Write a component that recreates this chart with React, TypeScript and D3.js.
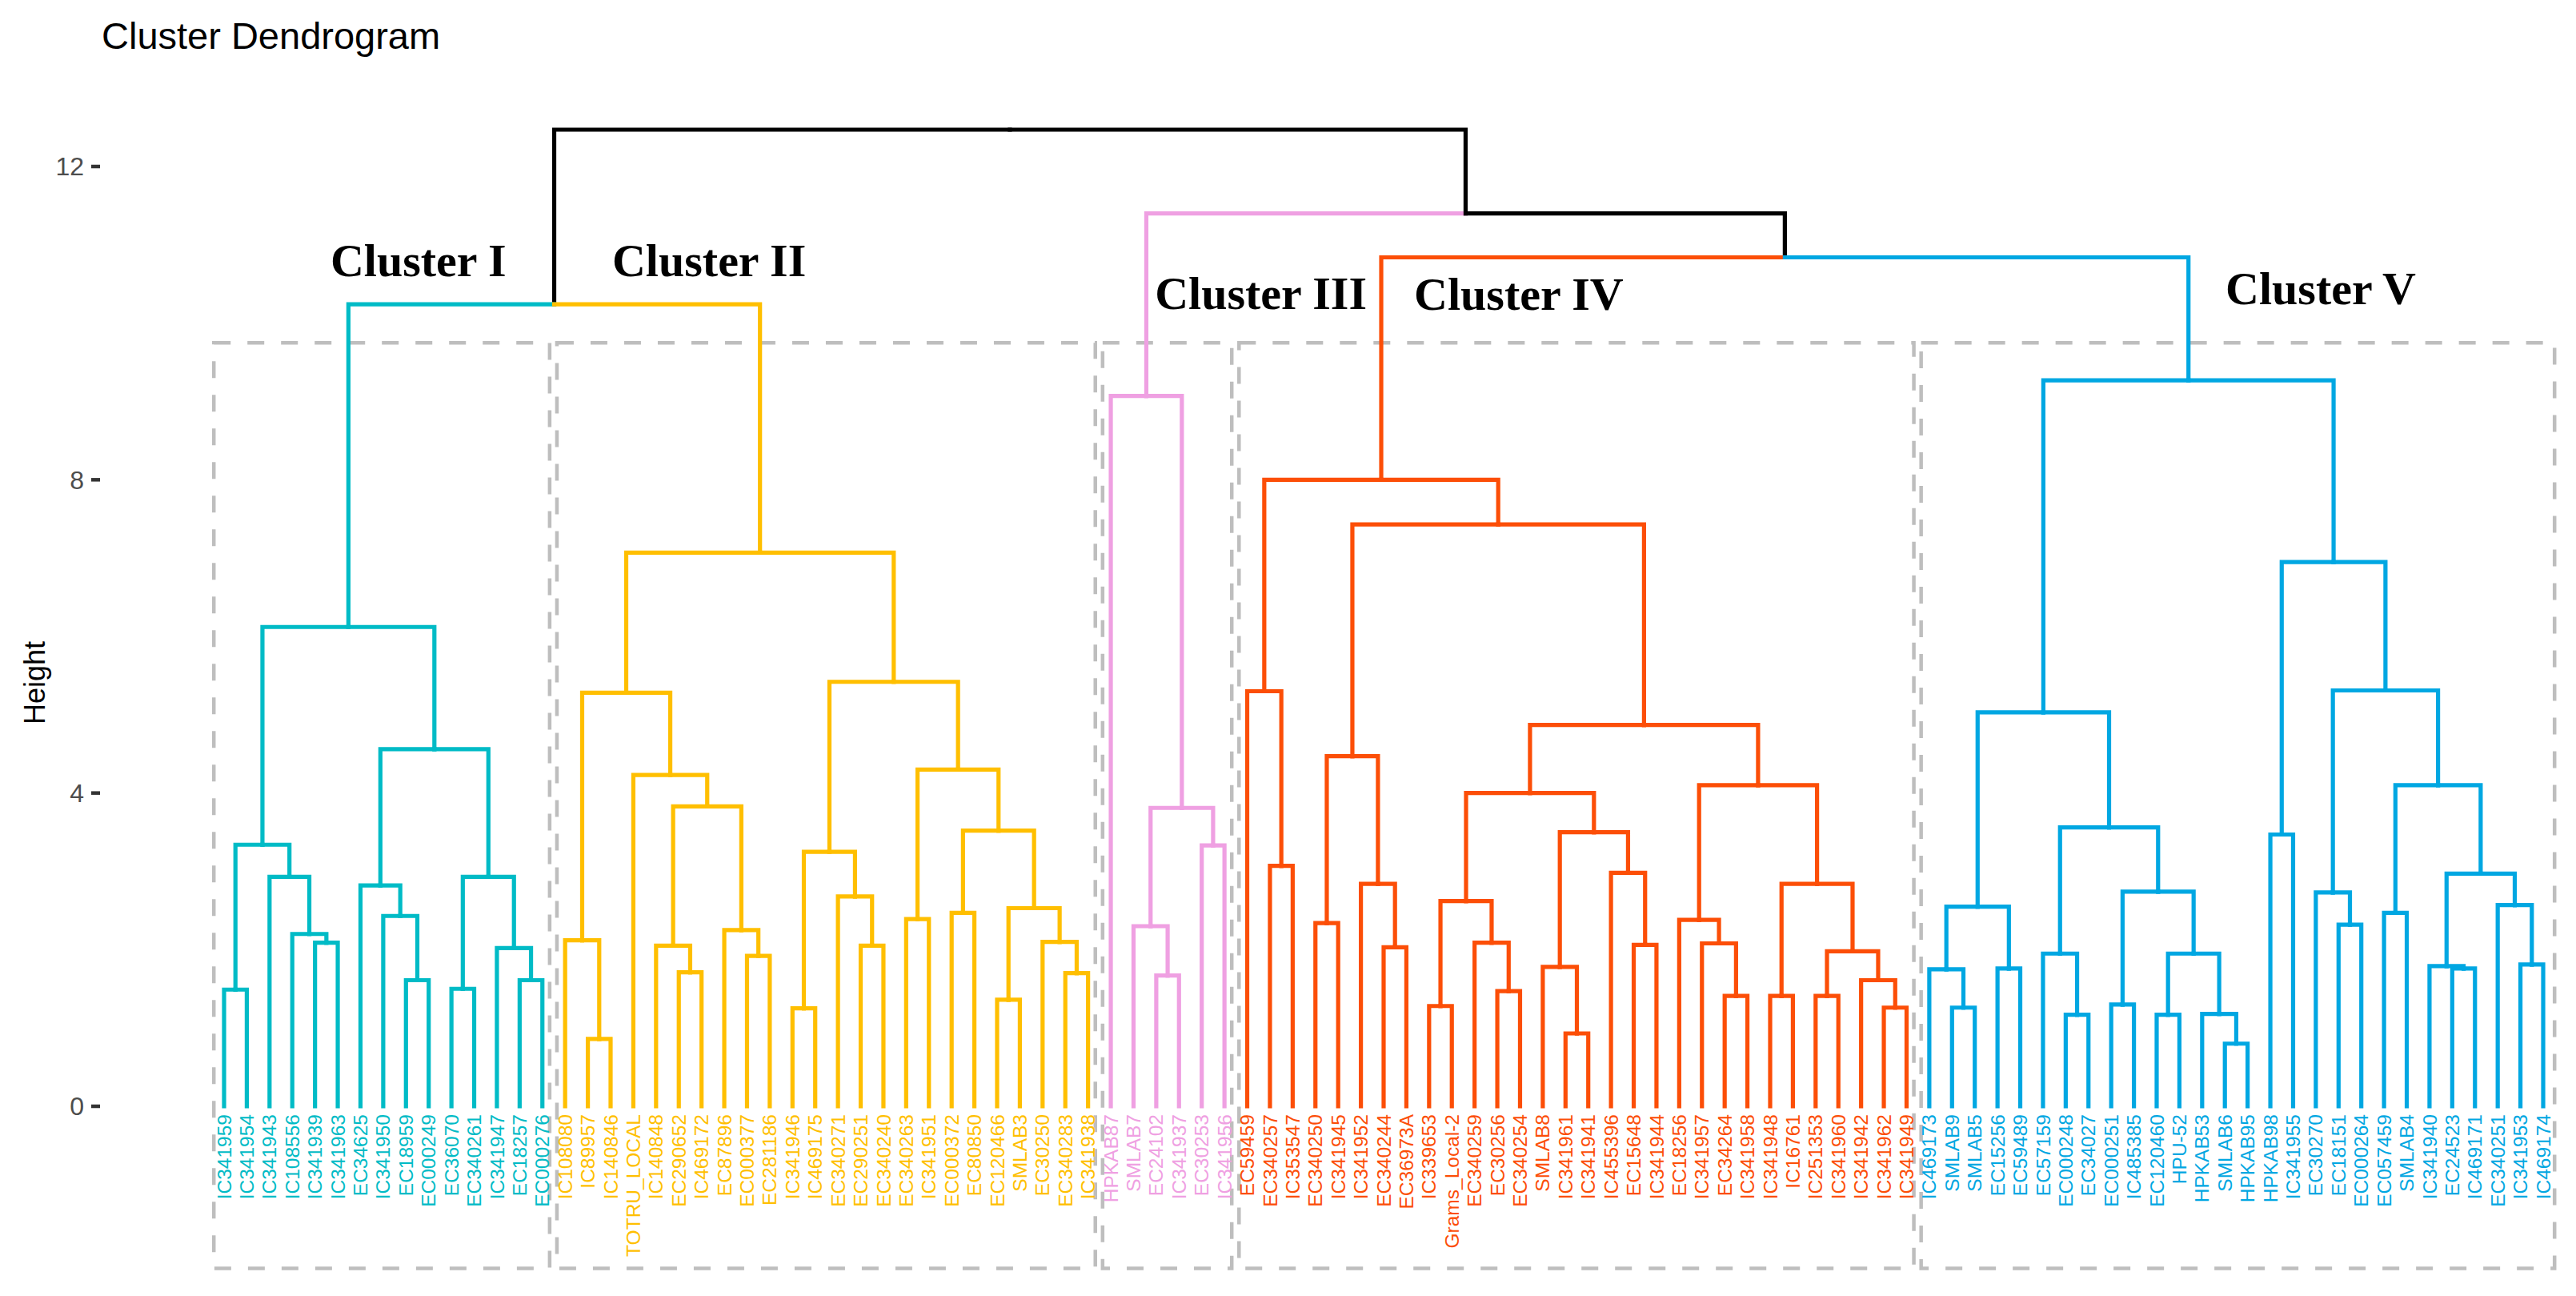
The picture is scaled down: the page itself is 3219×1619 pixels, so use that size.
import React from 'react'
import * as d3 from 'd3'

// a leaf is a sample name, a merge is [left, right, height]
type Node = string | [Node, Node, number]

const clusterNames = ['Cluster I', 'Cluster II', 'Cluster III', 'Cluster IV', 'Cluster V']
const clusterColors = ['#00BBC6', '#FFBF00', '#EFA0E2', '#FC4E07', '#00A7E2']
// caption anchor for each cluster: [leaf position, height]
const captionAnchors: [number, number][] = [[4.68, 10.6], [17.07, 10.6], [40.94, 10.18], [52.34, 10.17], [88.03, 10.24]]

const clusterI: Node = [
  [['IC341959', 'IC341954', 1.49], ['IC341943', ['IC108556', ['IC341939', 'IC341963', 2.09], 2.2], 2.93], 3.34],
  [
    ['EC34625', ['IC341950', ['EC18959', 'EC000249', 1.61], 2.43], 2.82],
    [['EC36070', 'EC340261', 1.5], ['IC341947', ['EC18257', 'EC000276', 1.61], 2.02], 2.93],
    4.56,
  ],
  6.12,
]

const clusterII: Node = [
  [
    ['IC108080', ['IC89957', 'IC140846', 0.86], 2.12],
    ['TOTRU_LOCAL', [['IC140848', ['EC290652', 'IC469172', 1.71], 2.05], ['EC87896', ['EC000377', 'EC281186', 1.92], 2.25], 3.83], 4.23],
    5.28,
  ],
  [
    [['IC341946', 'IC469175', 1.25], ['EC340271', ['EC290251', 'EC340240', 2.05], 2.68], 3.25],
    [
      ['EC340263', 'IC341951', 2.39],
      [['EC000372', 'EC80850', 2.47], [['EC120466', 'SMLAB3', 1.36], ['EC30250', ['EC340283', 'IC341938', 1.7], 2.1], 2.53], 3.52],
      4.3,
    ],
    5.42,
  ],
  7.07,
]

const clusterIII: Node = [
  'HPKAB87',
  [['SMLAB7', ['EC24102', 'IC341937', 1.67], 2.3], ['EC30253', 'IC341956', 3.33], 3.81],
  9.07,
]

const clusterIV: Node = [
  ['EC59459', ['EC340257', 'IC353547', 3.07], 5.3],
  [
    [['EC340250', 'IC341945', 2.34], ['IC341952', ['EC340244', 'EC36973A', 2.03], 2.84], 4.47],
    [
      [
        [['IC339653', 'Grams_Local-2', 1.28], ['EC340259', ['EC30256', 'EC340254', 1.47], 2.09], 2.62],
        [['SMLAB8', ['IC341961', 'IC341941', 0.93], 1.78], ['IC455396', ['EC15648', 'IC341944', 2.06], 2.98], 3.5],
        4.0,
      ],
      [
        ['EC18256', ['IC341957', ['EC34264', 'IC341958', 1.41], 2.08], 2.38],
        [['IC341948', 'IC16761', 1.41], [['IC251353', 'IC341960', 1.41], ['IC341942', ['IC341962', 'IC341949', 1.26], 1.61], 1.98], 2.84],
        4.1,
      ],
      4.87,
    ],
    7.43,
  ],
  8.0,
]

const clusterV: Node = [
  [
    [['IC469173', ['SMLAB9', 'SMLAB5', 1.26], 1.75], ['EC15256', 'EC59489', 1.76], 2.55],
    [
      ['EC57159', ['EC000248', 'EC34027', 1.17], 1.95],
      [['EC000251', 'IC485385', 1.3], [['EC120460', 'HPU-52', 1.17], ['HPKAB53', ['SMLAB6', 'HPKAB95', 0.8], 1.18], 1.95], 2.74],
      3.56,
    ],
    5.03,
  ],
  [
    ['HPKAB98', 'IC341955', 3.47],
    [
      ['EC30270', ['EC18151', 'EC000264', 2.32], 2.73],
      [['EC057459', 'SMLAB4', 2.47], [['IC341940', ['EC24523', 'IC469171', 1.76], 1.79], ['EC340251', ['IC341953', 'IC469174', 1.81], 2.57], 2.97], 4.1],
      5.31,
    ],
    6.95,
  ],
  9.27,
]

const clusters = [clusterI, clusterII, clusterIII, clusterIV, clusterV]

// merges above the five clusters
const joinI_II = 10.24
const joinIV_V = 10.84
const joinIII_rest = 11.4
const rootHeight = 12.47

const yTicks = [0, 4, 8, 12]
const rectTop = 9.75
const rectBottom = -2.07

const tree: Node = [[clusterI, clusterII, joinI_II], [clusterIII, [clusterIV, clusterV, joinIV_V], joinIII_rest], rootHeight]

export default function App() {
  const width = 3219
  const height = 1619

  const root = d3.hierarchy<Node>(tree, d => (typeof d === 'string' ? null : [d[0], d[1]]))
  const leafNames = root.leaves().map(d => d.data as string)

  const x = d3.scalePoint<string>().domain(leafNames).range([280, 3178])
  const y = d3.scaleLinear().domain([0, 12]).range([1382, 208])
  const step = x.step()

  const px = new Map<d3.HierarchyNode<Node>, number>()
  const ph = new Map<d3.HierarchyNode<Node>, number>()
  root.eachAfter(d => {
    if (!d.children) {
      px.set(d, x(d.data as string)!)
      ph.set(d, 0)
    } else {
      px.set(d, d3.mean(d.children, c => px.get(c)!)!)
      ph.set(d, (d.data as [Node, Node, number])[2])
    }
  })

  const clusterOf = (d: d3.HierarchyNode<Node>) => {
    for (const a of d.ancestors()) {
      const i = clusters.indexOf(a.data as any)
      if (i >= 0) return i
    }
    return -1
  }

  const links = root.descendants().slice(1).map(d => {
    const c = clusterOf(d)
    const p = d.parent!
    return {
      d: `M${px.get(d)},${y(ph.get(d)!)}V${y(ph.get(p)!)}H${px.get(p)}`,
      color: c >= 0 ? clusterColors[c] : '#000000',
    }
  })

  const boxes = clusters.map((cl, i) => {
    const node = root.descendants().find(d => d.data === cl)!
    const lv = node.leaves()
    const last = i === clusters.length - 1
    const x0 = x(lv[0].data as string)! - (i === 0 ? 0.45 : 0.36) * step
    const x1 = x(lv[lv.length - 1].data as string)! + (last ? 0.5 : 0.32) * step
    return { i, x0, x1 }
  })

  const leaves = root.leaves()
  const sans = "'Liberation Sans', Arial, sans-serif"

  return (
    <div style={{ position: 'fixed', left: 0, top: 0, width, height, background: '#fff' }}>
      <svg width={width} height={height} style={{ display: 'block' }}>
        <text x={127} y={61} fontFamily={sans} fontSize={47} fill="#000">Cluster Dendrogram</text>

        {yTicks.map(t => (
          <g key={t}>
            <text x={105} y={y(t)} dy="0.35em" textAnchor="end" fontFamily={sans} fontSize={32} fill="#4D4D4D">{t}</text>
            <line x1={114} x2={125} y1={y(t)} y2={y(t)} stroke="#333" strokeWidth={4.5} />
          </g>
        ))}
        <text transform={`translate(56,${853}) rotate(-90)`} textAnchor="middle" fontFamily={sans} fontSize={36} fill="#000">Height</text>

        {boxes.map(b => (
          <rect key={b.i} x={b.x0} y={y(rectTop)} width={b.x1 - b.x0} height={y(rectBottom) - y(rectTop)}
            fill="none" stroke="#BEBEBE" strokeWidth={4.5} strokeDasharray="21 21" />
        ))}

        <g fill="none" strokeWidth={5.2} strokeLinecap="square">
          {links.map((l, i) => (
            <path key={i} d={l.d} stroke={l.color} />
          ))}
        </g>

        {leaves.map(d => (
          <text key={d.data as string}
            transform={`translate(${px.get(d)},${y(0) + 10}) rotate(-90)`}
            dy="0.35em" textAnchor="end" fontFamily={sans} fontSize={24.5}
            fill={clusterColors[clusterOf(d)]}>
            {d.data as string}
          </text>
        ))}

        {clusterNames.map((name, i) => (
          <text key={name} x={x.range()[0] + captionAnchors[i][0] * step} y={y(captionAnchors[i][1])}
            fontFamily="'Liberation Serif', 'Times New Roman', serif" fontWeight="bold" fontSize={58} fill="#000">
            {name}
          </text>
        ))}
      </svg>
    </div>
  )
}
